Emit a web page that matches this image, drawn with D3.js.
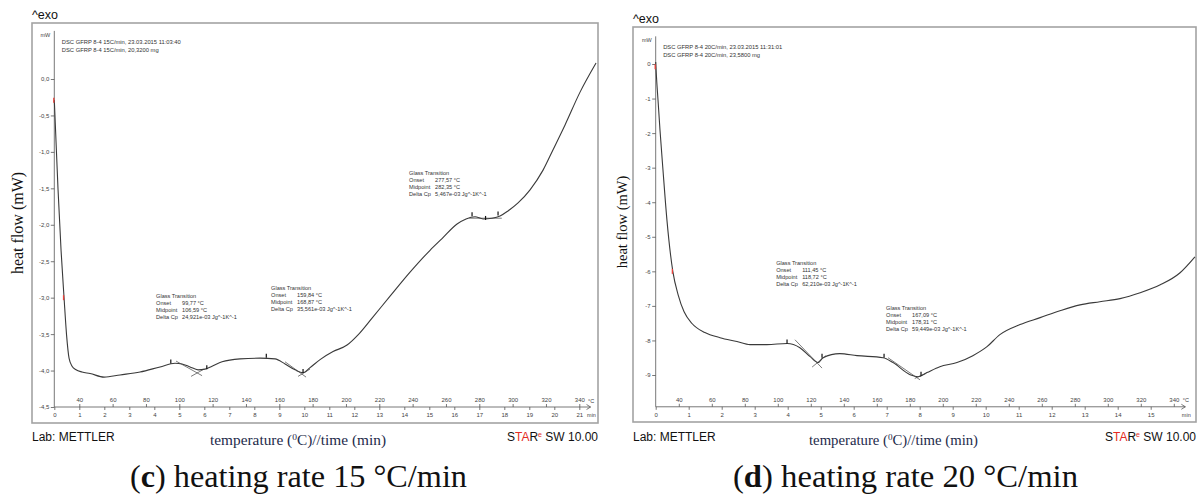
<!DOCTYPE html>
<html><head><meta charset="utf-8">
<script src="https://cdn.jsdelivr.net/npm/d3@7"></script>
<style>body{margin:0;background:#fff}svg{display:block}</style>
</head><body>
<svg id="chart" width="1201" height="497"></svg>
<script>
// ---- 15 °C/min run: time (min) vs heat flow (mW)
const timeC = [0.00,0.05,0.15,0.27,0.39,0.49,0.59,0.71,0.87,1.11,1.43,1.99,2.63,3.43,4.23,4.83,5.11,5.43,5.75,6.03,6.31,6.71,7.43,8.23,8.83,9.23,9.63,9.95,10.23,10.63,11.15,11.71,12.15,12.71,13.43,14.23,15.03,15.51,16.11,16.47,16.83,17.15,17.51,17.83,18.15,18.55,19.03,19.55,19.95,20.43,21.03,21.67];
const flowC = [-0.29,-0.70,-1.52,-2.35,-3.00,-3.51,-3.83,-3.94,-3.99,-4.02,-4.04,-4.09,-4.06,-4.02,-3.95,-3.90,-3.91,-3.95,-3.99,-3.98,-3.94,-3.88,-3.84,-3.83,-3.84,-3.91,-3.99,-4.03,-3.96,-3.85,-3.74,-3.65,-3.51,-3.28,-2.98,-2.65,-2.35,-2.19,-1.99,-1.92,-1.89,-1.92,-1.91,-1.88,-1.81,-1.70,-1.52,-1.25,-0.97,-0.63,-0.18,0.22];

// ---- 20 °C/min run
const timeD = [0.00,0.02,0.07,0.13,0.22,0.34,0.52,0.68,0.86,1.10,1.49,1.95,2.46,2.86,3.37,3.98,4.37,4.68,4.92,5.07,5.58,6.10,6.89,7.19,7.71,7.95,8.22,8.61,9.13,9.61,10.04,10.43,11.04,11.65,12.25,12.86,13.46,14.07,14.68,15.29,15.89,16.34];
const flowD = [0.06,-0.32,-1.04,-1.91,-3.06,-4.51,-6.01,-6.68,-7.17,-7.51,-7.77,-7.92,-8.03,-8.12,-8.12,-8.09,-8.21,-8.47,-8.64,-8.50,-8.38,-8.44,-8.50,-8.64,-8.99,-9.05,-8.93,-8.76,-8.64,-8.44,-8.18,-7.83,-7.54,-7.34,-7.14,-6.97,-6.88,-6.79,-6.62,-6.39,-6.04,-5.58];

// ---- axis ticks
const yTicksC = [0,-0.5,-1,-1.5,-2,-2.5,-3,-3.5,-4,-4.5];
const yLabelsC = ["0,0","-0,5","-1,0","-1,5","-2,0","-2,5","-3,0","-3,5","-4,0","-4,5"];
const yTicksD = [0,-1,-2,-3,-4,-5,-6,-7,-8,-9];
const yLabelsD = ["0","-1","-2","-3","-4","-5","-6","-7","-8","-9"];
const tempTicks = [40,60,80,100,120,140,160,180,200,220,240,260,280,300,320,340];
const timeTicksC = d3.range(0, 22);
const timeTicksD = d3.range(0, 16);

// ---- evaluation results (glass transitions)
const gtC = [
  {at:[4.07,-3.00], onset:"99,77 °C",  mid:"106,59 °C", dcp:"24,921e-03 Jg^-1K^-1"},
  {at:[8.67,-2.89], onset:"159,84 °C", mid:"168,87 °C", dcp:"35,561e-03 Jg^-1K^-1"},
  {at:[14.19,-1.32],onset:"277,57 °C", mid:"282,35 °C", dcp:"5,467e-03 Jg^-1K^-1"}
];
const gtD = [
  {at:[3.65,-5.82], onset:"111,45 °C", mid:"118,72 °C", dcp:"62,210e-03 Jg^-1K^-1"},
  {at:[6.98,-7.12], onset:"167,09 °C", mid:"178,31 °C", dcp:"59,449e-03 Jg^-1K^-1"}
];
// evaluation limits on the curve (time, heat flow)
const limitsC = [[4.66,-3.89],[6.10,-3.97],[8.48,-3.81],[9.95,-4.02],[16.71,-1.87],[17.25,-1.92],[17.75,-1.86]];
const limitsD = [[3.98,-8.06],[5.04,-8.47],[6.92,-8.47],[8.04,-8.99]];
// tangent constructions [t1, v1, t2, v2]
const tangentsC = [[4.87,-3.87,5.91,-4.07],[5.47,-4.08,5.99,-3.98],[9.23,-3.88,10.07,-4.09],[9.75,-4.08,10.23,-3.98],[16.6,-1.91,17.9,-1.91]];
const tangentsD = [[4.22,-7.98,5.04,-8.80],[4.74,-8.77,5.16,-8.44],[7.04,-8.50,8.01,-9.14],[7.85,-9.10,8.20,-8.95]];
// red sample-point markers
const marksC = [[0.0,-0.29],[0.39,-3.0]];
const marksD = [[0.0,-0.08],[0.52,-6.0]];

const svg = d3.select("#chart");
const small = "Liberation Sans, Arial, sans-serif";

function drawPanel(p) {
  const g = svg.append("g");
  const x = d3.scaleLinear().domain([0, p.tMax]).range([p.x0, p.x0 + p.pxPerMin * p.tMax]);
  const xT = d3.scaleLinear().domain([p.T0, p.T0 + p.rate * p.tMax]).range(x.range());
  const y = d3.scaleLinear().domain(p.yDom).range(p.yRange);
  const yBase = y(p.yAxisMin);

  g.append("rect").attr("x", p.frame[0]).attr("y", p.frame[1])
    .attr("width", p.frame[2] - p.frame[0]).attr("height", p.frame[3] - p.frame[1])
    .attr("fill", "none").attr("stroke", "#a3a3a3").attr("stroke-width", 1.6);

  g.append("text").attr("x", p.frame[0]).attr("y", p.frame[1] - 4)
    .attr("font-family", small).attr("font-size", 12.5).attr("fill", "#111").text("^exo");

  // header lines
  p.header.forEach((s, i) => g.append("text").attr("x", p.x0 + 7.5).attr("y", p.headY + i * 7.5)
    .attr("font-family", small).attr("font-size", 5.8).attr("fill", "#333").text(s));

  // y axis
  const yAx = g.append("g").attr("transform", `translate(${p.x0},0)`);
  yAx.call(d3.axisLeft(y).tickValues(d3.range(p.yAxisMin, p.yAxisMax, p.yMinor)).tickSize(2).tickFormat(""));
  yAx.call(d3.axisLeft(y).tickValues(p.yTicks).tickSize(3.5).tickPadding(1.5).tickFormat((d, i) => p.yLabels[i]));
  yAx.selectAll(".domain").remove();
  yAx.selectAll("line").attr("stroke", "#555").attr("stroke-width", 0.8);
  yAx.selectAll("text").attr("font-family", small).attr("font-size", 6).attr("fill", "#444");
  g.append("line").attr("x1", p.x0).attr("x2", p.x0).attr("y1", yBase).attr("y2", y(p.yAxisMax))
    .attr("stroke", "#555").attr("stroke-width", 0.8);
  g.append("text").attr("x", p.x0 - 4).attr("y", y(p.yAxisMax) + 6).attr("text-anchor", "end")
    .attr("font-family", small).attr("font-size", 5.5).attr("fill", "#444").text("mW");

  // x axes: temperature above, time below
  const tEnd = p.axisEndT;
  const tempMinor = d3.range(30, p.T0 + p.rate * tEnd, 5);
  const top = g.append("g").attr("transform", `translate(0,${yBase})`);
  top.call(d3.axisTop(xT).tickValues(tempMinor).tickSize(1.8).tickFormat(""));
  top.call(d3.axisTop(xT).tickValues(tempTicks).tickSize(3).tickPadding(2).tickFormat(d3.format("d")));
  const bot = g.append("g").attr("transform", `translate(0,${yBase})`);
  bot.call(d3.axisBottom(x).tickValues(d3.range(0, tEnd, 0.2)).tickSize(1.5).tickFormat(""));
  bot.call(d3.axisBottom(x).tickValues(p.timeTicks).tickSize(3).tickPadding(2.5).tickFormat(d3.format("d")));
  [top, bot].forEach(a => {
    a.selectAll(".domain").remove();
    a.selectAll("line").attr("stroke", "#555").attr("stroke-width", 0.8);
    a.selectAll("text").attr("font-family", small).attr("font-size", 6).attr("fill", "#444");
  });
  const xe = x(tEnd);
  g.append("path").attr("d", `M${p.x0},${yBase}H${xe}M${xe - 4},${yBase - 2.5}L${xe},${yBase}L${xe - 4},${yBase + 2.5}`)
    .attr("fill", "none").attr("stroke", "#555").attr("stroke-width", 0.8);
  g.append("text").attr("x", xe - 2.5).attr("y", yBase - 4.5)
    .attr("font-family", small).attr("font-size", 5.5).attr("fill", "#444").text("°C");
  g.append("text").attr("x", xe - 3.5).attr("y", yBase + 10)
    .attr("font-family", small).attr("font-size", 5.5).attr("fill", "#444").text("min");

  // curve
  const pts = p.time.map((t, i) => [t, p.flow[i]]);
  g.append("path").datum(pts)
    .attr("d", d3.line().x(d => x(d[0])).y(d => y(d[1])).curve(d3.curveMonotoneX))
    .attr("fill", "none").attr("stroke", "#3a3a3a").attr("stroke-width", 1.1);

  // tangents and limits
  g.selectAll(".tan").data(p.tangents).join("line")
    .attr("x1", d => x(d[0])).attr("y1", d => y(d[1])).attr("x2", d => x(d[2])).attr("y2", d => y(d[3]))
    .attr("stroke", "#444").attr("stroke-width", 0.7);
  g.selectAll(".lim").data(p.limits).join("line")
    .attr("x1", d => x(d[0])).attr("x2", d => x(d[0]))
    .attr("y1", d => y(d[1]) - 3).attr("y2", d => y(d[1]) + 1)
    .attr("stroke", "#111").attr("stroke-width", 1.2);
  g.selectAll(".mk").data(p.marks).join("line")
    .attr("x1", d => x(d[0]) - 0.5).attr("x2", d => x(d[0]) - 0.5)
    .attr("y1", d => y(d[1]) - 2.5).attr("y2", d => y(d[1]) + 2.5)
    .attr("stroke", "#e8403a").attr("stroke-width", 1.3);

  // glass transition results
  p.gt.forEach(r => {
    const ax = x(r.at[0]), ay = y(r.at[1]);
    const rows = [["Glass Transition", ""], ["Onset", r.onset], ["Midpoint", r.mid], ["Delta Cp", r.dcp]];
    rows.forEach((row, i) => {
      g.append("text").attr("x", ax).attr("y", ay + i * 7).attr("font-family", small)
        .attr("font-size", 5.6).attr("fill", "#333").text(row[0]);
      if (row[1]) g.append("text").attr("x", ax + 26).attr("y", ay + i * 7).attr("font-family", small)
        .attr("font-size", 5.6).attr("fill", "#333").text(row[1]);
    });
  });

  // footer
  g.append("text").attr("x", p.frame[0]).attr("y", 441).attr("font-family", small)
    .attr("font-size", 12).attr("fill", "#111").text("Lab: METTLER");
  const st = g.append("text").attr("x", p.frame[2]).attr("y", 441).attr("text-anchor", "end")
    .attr("font-family", small).attr("font-size", 12).attr("fill", "#111");
  st.append("tspan").text("S");
  st.append("tspan").attr("fill", "#e42b24").text("TA");
  st.append("tspan").text("R");
  st.append("tspan").attr("fill", "#e42b24").attr("font-size", 7).attr("dy", -4).text("e");
  st.append("tspan").attr("dy", 4).text(" SW 10.00");

  const xl = g.append("text").attr("x", p.xLabelX).attr("y", 445).attr("font-family", "Liberation Serif, serif")
    .attr("font-size", 14.5).attr("fill", "#1d2a4a").attr("textLength", p.xLabelW).attr("lengthAdjust", "spacingAndGlyphs");
  xl.append("tspan").text("temperature (");
  xl.append("tspan").attr("font-size", 9).attr("dy", -5).text("0");
  xl.append("tspan").attr("dy", 5).text("C)//time (min)");

  g.append("text").attr("transform", `translate(${p.yLabelX},${p.yLabelY}) rotate(-90)`)
    .attr("text-anchor", "middle").attr("font-family", "Liberation Serif, serif")
    .attr("font-size", p.yLabelSize).attr("fill", "#111").text("heat flow (mW)");

  // caption
  const cap = g.append("text").attr("x", p.capX).attr("y", 487).attr("font-family", "Liberation Serif, serif")
    .attr("font-size", 31).attr("fill", "#111").attr("textLength", p.capW).attr("lengthAdjust", "spacingAndGlyphs");
  cap.append("tspan").text("(");
  cap.append("tspan").attr("font-weight", "bold").text(p.letter);
  cap.append("tspan").text(`) heating rate ${p.rate} °C/min`);
}

drawPanel({
  frame: [32, 23, 598, 423], x0: 54.3, pxPerMin: 25, tMax: 21.7, axisEndT: 21.45, T0: 25, rate: 15,
  yDom: [-4.5, 0], yRange: [407, 79], yAxisMin: -4.5, yAxisMax: 0.66, yMinor: 0.1,
  yTicks: yTicksC, yLabels: yLabelsC, timeTicks: timeTicksC,
  time: timeC, flow: flowC, gt: gtC, limits: limitsC, tangents: tangentsC, marks: marksC,
  header: ["DSC GFRP 8-4 15C/min, 23.03.2015 11:03:40", "DSC GFRP 8-4 15C/min, 20,3200 mg"], headY: 44,
  xLabelX: 210, xLabelW: 176, yLabelX: 23, yLabelY: 223, yLabelSize: 16,
  capX: 130, capW: 337, letter: "c"
});
drawPanel({
  frame: [633, 27, 1196, 422], x0: 655.7, pxPerMin: 33, tMax: 16.4, axisEndT: 16.05, T0: 26, rate: 20,
  yDom: [-9, 0], yRange: [375, 64], yAxisMin: -9.92, yAxisMax: 0.8, yMinor: 0.2,
  yTicks: yTicksD, yLabels: yLabelsD, timeTicks: timeTicksD,
  time: timeD, flow: flowD, gt: gtD, limits: limitsD, tangents: tangentsD, marks: marksD,
  header: ["DSC GFRP 8-4 20C/min, 23.03.2015 11:31:01", "DSC GFRP 8-4 20C/min, 23,5800 mg"], headY: 49,
  xLabelX: 809, xLabelW: 169, yLabelX: 627, yLabelY: 222, yLabelSize: 14.5,
  capX: 733, capW: 345, letter: "d"
});
</script>
</body></html>
